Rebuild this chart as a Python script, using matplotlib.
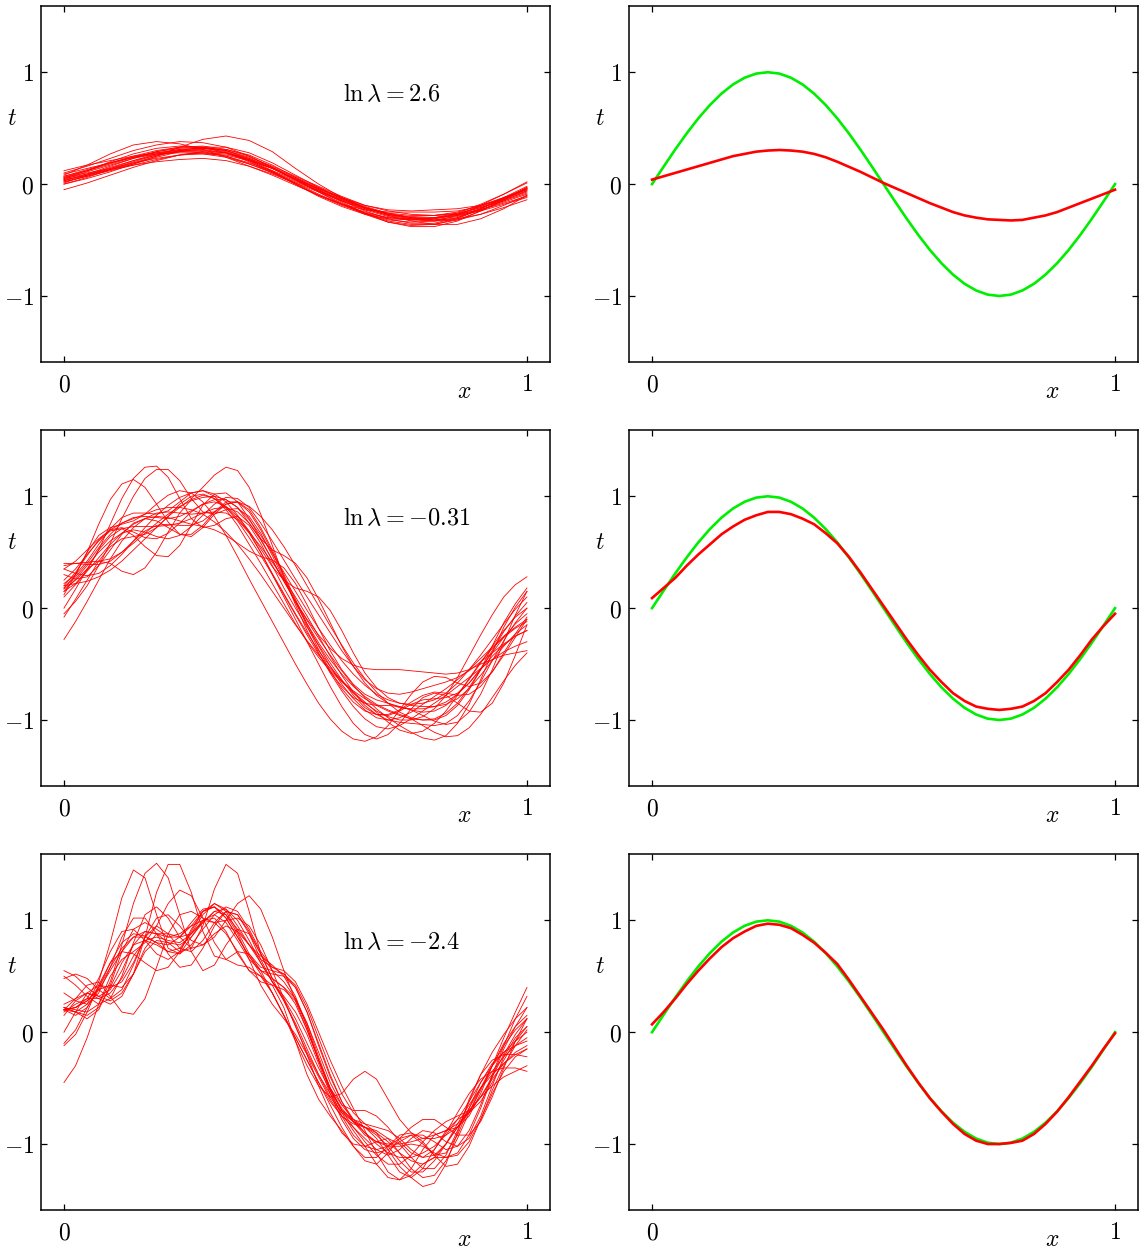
import numpy as np
import matplotlib.pyplot as plt

plt.rcParams["mathtext.fontset"] = "cm"
plt.rcParams["font.family"] = ["DejaVu Serif"]

# sample grids of the curves
x21 = np.linspace(0, 1, 21)
x41 = np.linspace(0, 1, 41)

labels = [r"$\ln\lambda = 2.6$", r"$\ln\lambda = -0.31$", r"$\ln\lambda = -2.4$"]

# true function (green)
h_true = [0.0, 0.156, 0.309, 0.454, 0.588, 0.707, 0.809, 0.891, 0.951, 0.988, 1.0,
          0.988, 0.951, 0.891, 0.809, 0.707, 0.588, 0.454, 0.309, 0.156, 0.0,
          -0.156, -0.309, -0.454, -0.588, -0.707, -0.809, -0.891, -0.951, -0.988, -1.0,
          -0.988, -0.951, -0.891, -0.809, -0.707, -0.588, -0.454, -0.309, -0.156, 0.0]

# average fits (red, right column)
avg_top = [.04, .07, .10, .13, .16, .19, .22, .25, .27, .29, .30, .305, .30, .29, .27, .24, .20,
           .155, .11, .06, .01, -.035, -.08, -.125, -.17, -.21, -.25, -.28, -.30, -.315, -.32,
           -.325, -.32, -.30, -.28, -.25, -.21, -.17, -.13, -.09, -.05]
avg_mid = [.09, .18, .27, .38, .48, .57, .66, .73, .79, .83, .86, .86, .84, .80, .75, .67, .58,
           .46, .32, .17, .02, -.13, -.28, -.42, -.55, -.66, -.76, -.83, -.88, -.90, -.91,
           -.90, -.88, -.83, -.76, -.66, -.55, -.42, -.28, -.16, -.05]
avg_bot = [.07, .18, .30, .43, .55, .66, .76, .84, .90, .95, .97, .96, .93, .87, .80, .71, .61,
           .47, .32, .17, .02, -.14, -.30, -.45, -.59, -.71, -.82, -.91, -.97, -1.0, -1.0,
           -.99, -.97, -.91, -.82, -.71, -.58, -.44, -.30, -.15, -.01]

# individual fits, ln lambda = 2.6 (21 samples each)
fits_top = [
    [.06, .12, .19, .25, .30, .33, .33, .30, .23, .14, .04, -.06, -.15, -.23, -.29, -.32, -.33, -.30, -.23, -.15, -.06],
    [.02, .07, .12, .17, .22, .26, .28, .27, .22, .14, .04, -.05, -.14, -.22, -.28, -.31, -.32, -.29, -.23, -.16, -.09],
    [.10, .16, .23, .30, .35, .38, .37, .33, .25, .15, .04, -.07, -.17, -.26, -.33, -.36, -.36, -.32, -.24, -.14, -.03],
    [-.05, .01, .08, .15, .21, .26, .29, .28, .23, .15, .06, -.03, -.12, -.20, -.26, -.30, -.32, -.31, -.27, -.21, -.14],
    [.08, .17, .27, .35, .38, .36, .31, .24, .16, .08, -.01, -.10, -.18, -.25, -.30, -.32, -.31, -.27, -.20, -.12, -.04],
    [.00, .05, .11, .18, .25, .33, .40, .43, .39, .29, .14, .00, -.12, -.21, -.27, -.29, -.28, -.25, -.19, -.12, -.05],
    [.03, .08, .13, .17, .20, .22, .23, .21, .16, .09, .01, -.07, -.15, -.22, -.28, -.33, -.36, -.36, -.31, -.22, -.10],
    [.07, .12, .18, .24, .28, .31, .32, .30, .24, .16, .07, -.02, -.11, -.19, -.23, -.24, -.23, -.22, -.19, -.13, -.06],
    [.05, .09, .13, .18, .24, .29, .32, .31, .26, .17, .06, -.05, -.16, -.26, -.34, -.38, -.38, -.33, -.24, -.14, -.04],
    [.01, .08, .15, .21, .26, .29, .29, .25, .18, .10, .02, -.06, -.14, -.21, -.27, -.31, -.33, -.32, -.27, -.19, -.10],
    [.04, .11, .17, .23, .27, .29, .28, .25, .19, .12, .04, -.04, -.13, -.21, -.27, -.30, -.30, -.26, -.18, -.09, .02],
    [.09, .14, .19, .24, .29, .32, .33, .30, .22, .12, .00, -.11, -.20, -.27, -.31, -.32, -.30, -.27, -.21, -.14, -.07],
    [.03, .09, .16, .23, .29, .33, .34, .31, .25, .15, .04, -.07, -.18, -.27, -.34, -.37, -.36, -.31, -.22, -.12, -.02],
    [.06, .10, .14, .19, .23, .26, .27, .26, .21, .14, .05, -.04, -.12, -.19, -.24, -.27, -.28, -.27, -.23, -.17, -.11],
    [.00, .06, .13, .20, .26, .30, .31, .28, .21, .11, .01, -.09, -.18, -.26, -.32, -.34, -.33, -.28, -.19, -.09, .01],
    [.12, .17, .21, .25, .28, .30, .30, .28, .22, .14, .05, -.04, -.13, -.21, -.26, -.28, -.28, -.26, -.21, -.15, -.08],
    [.05, .12, .20, .27, .32, .34, .33, .28, .20, .10, .00, -.10, -.19, -.26, -.30, -.31, -.30, -.28, -.24, -.18, -.12],
    [.02, .07, .13, .19, .25, .30, .33, .33, .28, .19, .08, -.03, -.13, -.21, -.27, -.30, -.31, -.28, -.22, -.13, -.03],
    [.07, .13, .19, .24, .27, .28, .27, .24, .18, .11, .03, -.06, -.15, -.24, -.31, -.35, -.35, -.30, -.22, -.13, -.04],
    [.04, .08, .14, .21, .27, .31, .32, .29, .21, .11, .00, -.10, -.18, -.23, -.25, -.25, -.25, -.24, -.20, -.13, -.05],
]

# individual fits, ln lambda = -0.31 (41 samples each)
fits_mid = [
    [.38, .40, .41, .42, .44, .50, .58, .67, .76, .84, .91, .96, .99, 1.0, .97, .90, .79, .65, .49, .32, .15, -.02, -.18, -.33, -.47, -.59, -.69, -.77, -.82, -.85, -.86, -.85, -.82, -.76, -.67, -.55, -.42, -.28, -.14, -.01, .10],
    [.18, .30, .50, .75, .97, 1.11, 1.15, 1.08, .93, .77, .66, .64, .72, .84, .93, .95, .88, .72, .52, .30, .08, -.14, -.34, -.52, -.68, -.81, -.91, -.98, -1.0, -.98, -.93, -.86, -.79, -.72, -.64, -.55, -.45, -.35, -.25, -.17, -.10],
    [.15, .22, .34, .52, .75, .98, 1.16, 1.26, 1.27, 1.17, .98, .80, .72, .74, .80, .82, .74, .58, .38, .18, .00, -.17, -.33, -.49, -.64, -.78, -.89, -.95, -.96, -.92, -.86, -.82, -.81, -.80, -.76, -.67, -.55, -.43, -.33, -.25, -.20],
    [-.28, -.12, .06, .25, .44, .60, .72, .80, .85, .86, .85, .84, .85, .86, .85, .79, .67, .50, .30, .10, -.10, -.30, -.50, -.70, -.88, -1.03, -1.13, -1.17, -1.13, -1.03, -.90, -.80, -.76, -.78, -.85, -.92, -.93, -.85, -.67, -.42, -.15],
    [.35, .31, .29, .31, .38, .48, .60, .72, .83, .92, .99, 1.03, 1.05, 1.02, .95, .83, .68, .50, .31, .13, -.05, -.22, -.38, -.52, -.65, -.76, -.85, -.92, -.97, -1.0, -1.0, -.97, -.90, -.78, -.62, -.43, -.24, -.06, .10, .21, .28],
    [.00, .17, .35, .52, .64, .71, .73, .73, .73, .74, .76, .80, .85, .89, .90, .86, .76, .61, .43, .24, .06, -.10, -.24, -.36, -.45, -.51, -.54, -.55, -.55, -.55, -.56, -.57, -.58, -.59, -.58, -.55, -.50, -.46, -.42, -.40, -.38],
    [.20, .22, .24, .28, .34, .42, .52, .62, .72, .82, .90, .98, 1.08, 1.19, 1.26, 1.23, 1.08, .84, .56, .28, .03, -.20, -.40, -.58, -.74, -.88, -.99, -1.06, -1.08, -1.05, -.99, -.92, -.85, -.78, -.70, -.62, -.54, -.46, -.39, -.34, -.30],
    [.25, .35, .48, .60, .69, .71, .65, .55, .47, .46, .56, .74, .92, 1.02, 1.03, .95, .80, .62, .43, .24, .06, -.11, -.27, -.42, -.56, -.69, -.80, -.90, -.98, -1.05, -1.11, -1.16, -1.18, -1.14, -1.03, -.86, -.64, -.40, -.17, .01, .15],
    [.18, .28, .40, .54, .66, .76, .81, .82, .81, .80, .82, .87, .93, .97, .97, .90, .76, .62, .52, .47, .40, .27, .08, -.13, -.34, -.52, -.67, -.78, -.85, -.89, -.90, -.90, -.88, -.84, -.77, -.67, -.54, -.40, -.26, -.14, -.05],
    [.15, .26, .38, .50, .60, .67, .70, .68, .64, .62, .65, .73, .83, .93, .99, .98, .90, .76, .60, .43, .26, .10, -.06, -.22, -.38, -.52, -.64, -.72, -.76, -.77, -.75, -.72, -.69, -.66, -.62, -.56, -.48, -.40, -.32, -.25, -.20],
    [-.05, .06, .20, .38, .58, .80, 1.00, 1.16, 1.24, 1.24, 1.14, .98, .86, .84, .88, .89, .82, .67, .47, .26, .05, -.14, -.31, -.46, -.59, -.70, -.79, -.86, -.91, -.95, -.99, -1.05, -1.11, -1.15, -1.14, -1.07, -.95, -.80, -.65, -.51, -.40],
    [.40, .40, .39, .39, .42, .50, .60, .69, .74, .75, .74, .74, .78, .86, .93, .95, .91, .82, .70, .55, .38, .20, .02, -.16, -.33, -.49, -.63, -.75, -.85, -.93, -.98, -1.0, -.99, -.94, -.85, -.71, -.55, -.38, -.21, -.07, .05],
    [.12, .30, .50, .65, .72, .75, .78, .84, .93, 1.01, 1.05, 1.03, .95, .82, .65, .46, .26, .07, -.12, -.31, -.50, -.68, -.85, -.99, -1.10, -1.17, -1.19, -1.15, -1.05, -.91, -.77, -.66, -.61, -.62, -.67, -.70, -.67, -.57, -.42, -.26, -.10],
    [.30, .26, .28, .38, .52, .66, .76, .80, .78, .72, .66, .66, .74, .86, .95, .95, .86, .70, .50, .28, .06, -.16, -.37, -.56, -.72, -.84, -.92, -.95, -.95, -.91, -.84, -.78, -.75, -.76, -.78, -.77, -.70, -.57, -.40, -.23, -.08],
    [.22, .30, .42, .57, .71, .81, .85, .85, .84, .87, .95, 1.03, 1.05, 1.00, .90, .78, .63, .47, .30, .12, -.06, -.24, -.41, -.57, -.70, -.80, -.85, -.87, -.87, -.88, -.91, -.96, -1.01, -1.04, -1.02, -.93, -.77, -.55, -.30, -.06, .15],
    [.17, .25, .35, .42, .40, .33, .30, .36, .50, .68, .85, .97, 1.01, .98, .90, .80, .68, .55, .41, .26, .10, -.07, -.25, -.43, -.60, -.75, -.87, -.95, -1.0, -1.02, -1.03, -1.04, -1.05, -1.03, -.96, -.83, -.66, -.47, -.29, -.13, .00],
    [.20, .32, .47, .61, .70, .72, .68, .63, .62, .67, .76, .86, .93, .95, .91, .82, .69, .53, .37, .25, .18, .15, .10, -.02, -.20, -.40, -.58, -.71, -.80, -.85, -.87, -.88, -.88, -.86, -.81, -.72, -.60, -.47, -.34, -.23, -.15],
    [.35, .42, .52, .62, .70, .76, .80, .84, .88, .90, .90, .88, .84, .77, .68, .57, .44, .30, .15, .00, -.15, -.29, -.42, -.54, -.65, -.74, -.81, -.87, -.92, -.96, -.99, -1.0, -1.0, -.96, -.87, -.73, -.55, -.34, -.13, .04, .18],
    [-.08, .08, .25, .42, .55, .62, .64, .66, .72, .82, .93, 1.00, 1.02, .98, .88, .74, .57, .40, .22, .04, -.14, -.30, -.44, -.56, -.66, -.75, -.84, -.93, -1.02, -1.09, -1.12, -1.10, -1.03, -.92, -.78, -.63, -.48, -.36, -.26, -.18, -.12],
    [.10, .21, .33, .45, .57, .67, .75, .80, .82, .81, .78, .75, .73, .70, .65, .58, .51, .46, .43, .36, .22, .03, -.18, -.38, -.55, -.68, -.77, -.82, -.85, -.88, -.91, -.93, -.92, -.87, -.77, -.64, -.49, -.34, -.20, -.08, .00],
]

# individual fits, ln lambda = -2.4 (41 samples each)
fits_bot = [
    [.20, .18, .25, .45, .80, 1.20, 1.45, 1.38, 1.05, .75, .70, .85, 1.0, 1.02, .90, .70, .55, .50, .42, .22, -.08, -.38, -.60, -.75, -.88, -1.02, -1.15, -1.18, -1.08, -.95, -.92, -1.0, -1.10, -1.08, -.92, -.68, -.45, -.28, -.18, -.12, -.08],
    [.22, .20, .18, .25, .45, .78, 1.15, 1.42, 1.51, 1.38, 1.05, .72, .55, .60, .78, .92, .88, .70, .48, .28, .06, -.20, -.48, -.72, -.90, -1.0, -1.02, -.98, -.95, -1.0, -1.12, -1.22, -1.22, -1.10, -.88, -.62, -.38, -.18, -.02, .12, .22],
    [-.10, .02, .22, .38, .42, .40, .52, .85, 1.25, 1.50, 1.50, 1.25, .90, .68, .65, .72, .70, .55, .35, .15, -.05, -.25, -.45, -.65, -.85, -1.02, -1.12, -1.12, -1.02, -.92, -.90, -.98, -1.10, -1.20, -1.18, -1.02, -.78, -.52, -.30, -.12, .02],
    [.25, .30, .35, .32, .28, .35, .52, .72, .82, .80, .72, .75, .95, 1.28, 1.50, 1.42, 1.08, .70, .48, .40, .30, .08, -.22, -.50, -.70, -.80, -.85, -.95, -1.10, -1.25, -1.30, -1.22, -1.05, -.88, -.78, -.72, -.62, -.45, -.25, -.08, .05],
    [-.45, -.30, -.05, .25, .50, .65, .72, .80, .95, 1.15, 1.27, 1.22, 1.02, .80, .65, .60, .58, .50, .35, .15, -.05, -.25, -.45, -.62, -.75, -.85, -.95, -1.05, -1.10, -1.05, -.95, -.88, -.90, -.98, -1.02, -.95, -.75, -.48, -.22, -.05, .05],
    [.55, .50, .40, .32, .38, .55, .78, .90, .88, .80, .78, .85, .98, 1.08, 1.05, .92, .78, .68, .60, .50, .32, .05, -.25, -.50, -.65, -.70, -.70, -.75, -.85, -.98, -1.08, -1.12, -1.05, -.90, -.72, -.55, -.42, -.35, -.32, -.32, -.35],
    [.20, .30, .42, .45, .32, .18, .16, .30, .58, .88, 1.05, 1.08, 1.02, .98, 1.00, 1.02, .95, .78, .55, .30, .05, -.18, -.38, -.55, -.72, -.88, -1.02, -1.18, -1.30, -1.32, -1.22, -1.05, -.92, -.88, -.85, -.75, -.55, -.30, -.05, .18, .40],
    [.48, .52, .48, .38, .30, .38, .60, .85, .95, .88, .75, .72, .82, .98, 1.08, 1.05, .90, .70, .55, .45, .30, .05, -.25, -.52, -.70, -.78, -.82, -.90, -1.05, -1.20, -1.30, -1.38, -1.35, -1.18, -.90, -.60, -.38, -.25, -.20, -.20, -.22],
    [.20, .22, .28, .40, .58, .75, .85, .85, .80, .78, .85, .98, 1.10, 1.12, 1.02, .85, .68, .52, .35, .15, -.08, -.30, -.48, -.58, -.55, -.42, -.35, -.42, -.60, -.78, -.90, -.95, -.95, -.92, -.85, -.72, -.52, -.30, -.10, .05, .15],
    [.20, .15, .22, .40, .62, .80, .88, .86, .80, .72, .70, .78, .92, 1.05, 1.12, 1.08, .92, .72, .58, .52, .42, .22, -.05, -.32, -.55, -.72, -.82, -.85, -.88, -.95, -1.05, -1.12, -1.10, -1.00, -.85, -.68, -.50, -.35, -.22, -.12, -.05],
    [.00, .18, .35, .42, .40, .45, .62, .85, 1.02, 1.05, .95, .82, .78, .85, 1.00, 1.15, 1.22, 1.10, .85, .55, .28, .02, -.25, -.52, -.75, -.92, -1.02, -1.05, -1.02, -.95, -.85, -.78, -.78, -.85, -.92, -.92, -.80, -.58, -.32, -.08, .12],
    [.22, .18, .15, .22, .40, .62, .78, .82, .78, .72, .75, .88, 1.05, 1.15, 1.10, .95, .78, .65, .58, .55, .45, .25, .00, -.25, -.48, -.68, -.88, -1.08, -1.25, -1.32, -1.28, -1.18, -1.12, -1.12, -1.10, -.98, -.78, -.55, -.35, -.22, -.15],
    [-.12, -.02, .18, .42, .62, .72, .70, .62, .55, .58, .72, .92, 1.08, 1.12, 1.02, .85, .68, .55, .48, .40, .25, .02, -.25, -.50, -.70, -.85, -.98, -1.10, -1.18, -1.18, -1.10, -.98, -.88, -.80, -.75, -.70, -.58, -.40, -.20, -.02, .12],
    [.35, .28, .25, .35, .58, .85, 1.02, 1.02, .88, .70, .58, .60, .75, .95, 1.08, 1.05, .88, .65, .45, .30, .12, -.10, -.32, -.52, -.68, -.80, -.90, -.98, -1.02, -1.02, -1.00, -1.02, -1.08, -1.12, -1.08, -.92, -.68, -.40, -.15, .05, .22],
    [.18, .25, .30, .30, .35, .48, .68, .82, .85, .82, .80, .88, 1.00, 1.05, .98, .82, .65, .55, .52, .50, .40, .18, -.12, -.40, -.62, -.78, -.90, -1.00, -1.08, -1.12, -1.12, -1.08, -1.02, -.92, -.78, -.62, -.45, -.30, -.18, -.08, .00],
    [.20, .22, .30, .48, .72, .90, .92, .82, .70, .65, .72, .90, 1.08, 1.15, 1.08, .90, .70, .58, .55, .52, .40, .18, -.10, -.38, -.62, -.80, -.92, -.98, -1.00, -1.00, -.98, -.95, -.92, -.88, -.82, -.72, -.58, -.42, -.28, -.18, -.12],
    [.50, .42, .32, .25, .30, .50, .80, 1.05, 1.12, 1.02, .85, .75, .78, .88, .95, .90, .78, .62, .45, .28, .08, -.15, -.38, -.58, -.72, -.80, -.85, -.90, -.98, -1.08, -1.15, -1.18, -1.12, -1.00, -.85, -.70, -.58, -.48, -.40, -.35, -.30],
    [.22, .18, .12, .20, .42, .72, .92, .98, .92, .85, .85, .95, 1.08, 1.12, 1.05, .88, .65, .42, .25, .12, -.02, -.20, -.40, -.60, -.75, -.82, -.85, -.88, -.95, -1.08, -1.22, -1.30, -1.28, -1.15, -.95, -.72, -.50, -.30, -.12, .02, .12],
    [.15, .28, .35, .30, .25, .32, .52, .75, .88, .88, .85, .88, .98, 1.08, 1.10, 1.00, .82, .62, .45, .32, .18, -.02, -.28, -.55, -.78, -.95, -1.05, -1.08, -1.05, -.98, -.92, -.92, -.98, -1.05, -1.02, -.88, -.65, -.38, -.12, .12, .32],
    [.20, .22, .28, .38, .55, .72, .85, .90, .88, .85, .88, .95, 1.00, .98, .88, .72, .55, .45, .42, .38, .28, .08, -.18, -.45, -.65, -.78, -.85, -.92, -1.02, -1.15, -1.25, -1.25, -1.15, -1.00, -.82, -.65, -.50, -.38, -.28, -.20, -.15],
]

rows = [(x21, fits_top, avg_top), (x41, fits_mid, avg_mid), (x41, fits_bot, avg_bot)]

fig = plt.figure(figsize=(11.41, 12.49), dpi=100)
lefts = [0.0359, 0.5513]
bottoms = [0.7102, 0.3707, 0.0312]
w, h = 0.4461, 0.2848

for i, (xs, fits, avg) in enumerate(rows):
    ax_l = fig.add_axes([lefts[0], bottoms[i], w, h])
    ax_r = fig.add_axes([lefts[1], bottoms[i], w, h])
    for f in fits:
        ax_l.plot(xs, f, color="red", lw=0.6)
    ax_l.text(0.603, 0.80, labels[i], fontsize=17.5, ha="left", va="center")
    ax_r.plot(x41, h_true, color="#00ee00", lw=1.9)
    ax_r.plot(x41, avg, color="red", lw=1.9)
    for ax in (ax_l, ax_r):
        ax.set_xlim(-0.0497, 1.0497)
        ax.set_ylim(-1.59, 1.59)
        ax.set_xticks([0, 1])
        ax.set_xticklabels([r"$0$", r"$1$"])
        ax.set_yticks([-1, 0, 1])
        ax.set_yticklabels([r"$-1$", r"$0$", r"$1$"])
        ax.tick_params(direction="in", top=True, right=True, length=4, width=0.9,
                       labelsize=17)
        ax.tick_params(axis="x", pad=8)
        ax.tick_params(axis="y", pad=5)
        for s in ax.spines.values():
            s.set_linewidth(1.1)
        ax.text(-0.057, 0.684, r"$t$", transform=ax.transAxes, fontsize=17,
                ha="center", va="center")
        ax.text(0.831, -0.083, r"$x$", transform=ax.transAxes, fontsize=17,
                ha="center", va="center")

fig.savefig("out.png", dpi=100)
